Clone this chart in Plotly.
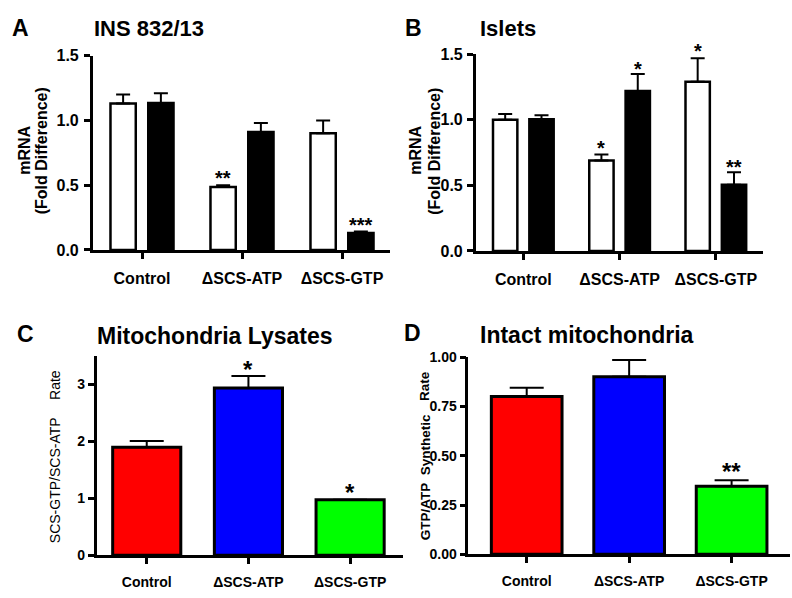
import plotly.graph_objects as go

W, H = 792, 598
FONT = "Liberation Sans, Arial, sans-serif"

categories = ["Control", "ΔSCS-ATP", "ΔSCS-GTP"]

# Panel A: INS 832/13
a_white = [1.13, 0.485, 0.90]
a_white_err = [0.07, 0.015, 0.10]
a_black = [1.135, 0.91, 0.13]
a_black_err = [0.075, 0.07, 0.012]
a_white_stars = ["", "**", ""]
a_black_stars = ["", "", "***"]

# Panel B: Islets
b_white = [1.0, 0.69, 1.29]
b_white_err = [0.045, 0.045, 0.18]
b_black = [1.005, 1.22, 0.505]
b_black_err = [0.03, 0.13, 0.095]
b_white_stars = ["", "*", "*"]
b_black_stars = ["", "*", "**"]

# Panel C: Mitochondria Lysates
c_vals = [1.90, 2.94, 0.975]
c_err = [0.11, 0.21, 0.0]
c_stars = ["", "*", "*"]

# Panel D: Intact mitochondria
d_vals = [0.80, 0.90, 0.345]
d_err = [0.045, 0.085, 0.03]
d_stars = ["", "", "**"]

bar_colors = ["#ff0000", "#0000ff", "#00ff00"]


def px(x):
    return x / W


def py(y):
    return 1 - y / H


fig = go.Figure()

# ---- A ----
fig.add_trace(go.Bar(x=categories, y=a_white, xaxis="x", yaxis="y",
                     marker=dict(color="white", line=dict(color="black", width=2.5)),
                     error_y=dict(type="data", array=a_white_err, arrayminus=[0]*3, symmetric=False,
                                  color="black", thickness=2, width=7),
                     showlegend=False))
fig.add_trace(go.Bar(x=categories, y=a_black, xaxis="x", yaxis="y",
                     marker=dict(color="black", line=dict(color="black", width=2.5)),
                     error_y=dict(type="data", array=a_black_err, arrayminus=[0]*3, symmetric=False,
                                  color="black", thickness=2, width=7),
                     showlegend=False))
# ---- B ----
fig.add_trace(go.Bar(x=categories, y=b_white, xaxis="x2", yaxis="y2",
                     marker=dict(color="white", line=dict(color="black", width=2.5)),
                     error_y=dict(type="data", array=b_white_err, arrayminus=[0]*3, symmetric=False,
                                  color="black", thickness=2, width=7),
                     showlegend=False))
fig.add_trace(go.Bar(x=categories, y=b_black, xaxis="x2", yaxis="y2",
                     marker=dict(color="black", line=dict(color="black", width=2.5)),
                     error_y=dict(type="data", array=b_black_err, arrayminus=[0]*3, symmetric=False,
                                  color="black", thickness=2, width=7),
                     showlegend=False))
# ---- C ----
fig.add_trace(go.Bar(x=categories, y=c_vals, xaxis="x3", yaxis="y3", width=0.67,
                     marker=dict(color=bar_colors, line=dict(color="black", width=3)),
                     error_y=dict(type="data", array=c_err, arrayminus=[0]*3, symmetric=False,
                                  color="black", thickness=2, width=17),
                     showlegend=False))
# ---- D ----
fig.add_trace(go.Bar(x=categories, y=d_vals, xaxis="x4", yaxis="y4", width=0.69,
                     marker=dict(color=bar_colors, line=dict(color="black", width=3)),
                     error_y=dict(type="data", array=d_err, arrayminus=[0]*3, symmetric=False,
                                  color="black", thickness=2, width=17),
                     showlegend=False))

axis_common = dict(showline=True, linecolor="black", linewidth=2.5, ticks="outside",
                   tickcolor="black", tickwidth=2.5, ticklen=6, showgrid=False, zeroline=False,
                   fixedrange=True)

fig.update_layout(
    width=W, height=H, margin=dict(l=0, r=0, t=0, b=0),
    paper_bgcolor="white", plot_bgcolor="white",
    barmode="group", bargap=0.245, bargroupgap=0.33,
    font=dict(family=FONT, color="black"),
    xaxis=dict(domain=[px(92.7), px(390)], range=[-0.493, 2.48], anchor="y",
               tickfont=dict(size=16, weight="bold"), ticklabelstandoff=6, **axis_common),
    yaxis=dict(domain=[py(249), py(49)], range=[0, 1.5], dtick=0.5, tickformat=".1f", anchor="x",
               tickfont=dict(size=16, weight="bold"), ticklabelstandoff=2, **axis_common),
    xaxis2=dict(domain=[px(475.7), px(763)], range=[-0.495, 2.49], anchor="y2",
                tickfont=dict(size=16, weight="bold"), ticklabelstandoff=6, **axis_common),
    yaxis2=dict(domain=[py(250), py(47.7)], range=[0, 1.5], dtick=0.5, tickformat=".1f", anchor="x2",
                tickfont=dict(size=16, weight="bold"), ticklabelstandoff=1, **axis_common),
    xaxis3=dict(domain=[px(96.7), px(403)], range=[-0.492, 2.52], anchor="y3",
                tickfont=dict(size=14, weight="bold"), ticklabelstandoff=6, **axis_common),
    yaxis3=dict(domain=[py(563.3), py(358.3)], range=[0, 3.5], dtick=1, anchor="x3",
                tickfont=dict(size=14, weight="bold"), ticklabelstandoff=0, **axis_common),
    xaxis4=dict(domain=[px(468.3), px(790)], range=[-0.57, 2.57], anchor="y4",
                tickfont=dict(size=14, weight="bold"), ticklabelstandoff=6, **axis_common),
    yaxis4=dict(domain=[py(562.3), py(359.3)], range=[0, 1.0], dtick=0.25, tickformat=".2f", anchor="x4",
                tickfont=dict(size=14, weight="bold"), ticklabelstandoff=0, **axis_common),
)

ann = []


def text(x, y, s, size, bold=True, angle=0, xanchor="center"):
    ann.append(dict(x=px(x), y=py(y), xref="paper", yref="paper", text=s, showarrow=False,
                    textangle=angle, xanchor=xanchor, yanchor="middle",
                    font=dict(size=size, family=FONT, color="black", weight="bold" if bold else "normal")))


# panel letters and titles
text(10, 21, "A", 23, xanchor="left")
text(92, 21, "INS 832/13", 22, xanchor="left")
text(403, 21, "B", 23, xanchor="left")
text(478, 21, "Islets", 22, xanchor="left")
text(15, 336, "C", 23, xanchor="left")
text(95, 338, "Mitochondria Lysates", 23, xanchor="left")
text(402, 335, "D", 23, xanchor="left")
text(478, 337, "Intact mitochondria", 23, xanchor="left")

# y-axis titles
text(25, 147, "mRNA", 16, angle=-90)
text(41.5, 147, "(Fold Difference)", 16, angle=-90)
text(416, 147, "mRNA", 16, angle=-90)
text(435, 147, "(Fold Difference)", 16, angle=-90)
text(55, 486, "SCS-GTP/SCS-ATP", 14, bold=False, angle=-90)
text(55, 388, "Rate", 14, bold=False, angle=-90)
text(425, 518, "GTP/ATP", 13.5, angle=-90)
text(425, 450, "Synthetic", 13.5, angle=-90)
text(425, 389, "Rate", 13.5, angle=-90)

# significance stars
slot = (1 - 0.245) / 2


def stars(xref, yref, vals, errs, marks, offset, size, shift):
    for i, (v, e, m) in enumerate(zip(vals, errs, marks)):
        if m:
            ann.append(dict(x=i + offset, y=v + e, xref=xref, yref=yref, text=m, showarrow=False,
                            xanchor="center", yanchor="middle", yshift=shift,
                            font=dict(size=size, family=FONT, color="black", weight="bold")))


stars("x", "y", a_white, a_white_err, a_white_stars, -slot / 2, 20, 7)
stars("x", "y", a_black, a_black_err, a_black_stars, slot / 2, 20, 7)
stars("x2", "y2", b_white, b_white_err, b_white_stars, -slot / 2, 20, 7)
stars("x2", "y2", b_black, b_black_err, b_black_stars, slot / 2, 20, 5)
stars("x3", "y3", c_vals, c_err, c_stars, 0, 24, 7)
stars("x4", "y4", d_vals, d_err, d_stars, 0, 24, 9)

fig.update_layout(annotations=ann)
fig.write_html("out.html", config={"displayModeBar": False},
               post_script="document.body.style.margin='0px';document.body.style.overflow='hidden';")
